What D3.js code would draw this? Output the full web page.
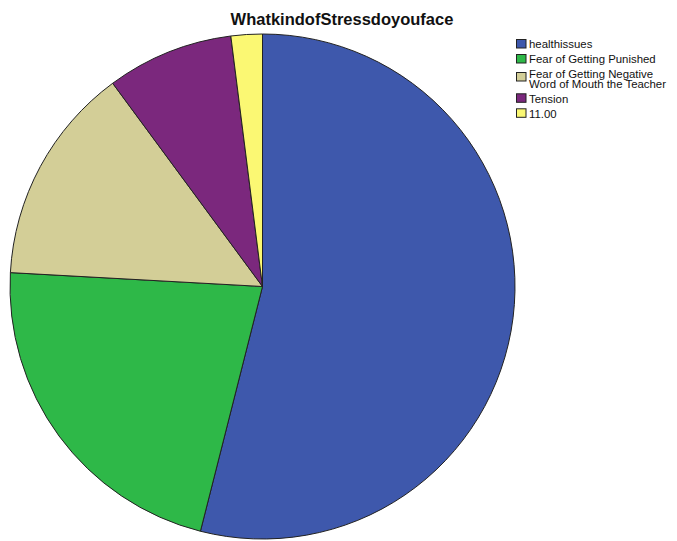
<!DOCTYPE html>
<html>
<head>
<meta charset="utf-8">
<script src="https://cdn.jsdelivr.net/npm/d3@7"></script>
<style>
  body { margin: 0; background: #fff; }
  svg { display: block; font-family: "Liberation Sans", Arial, sans-serif; }
</style>
</head>
<body>
<svg id="chart" width="677" height="541"></svg>
<script>
// Stress categories and their shares (percent)
const categories = ["healthissues", "Fear of Getting Punished", "Fear of Getting Negative\nWord of Mouth the Teacher", "Tension", "11.00"];
const values = [53.9, 21.9, 14.0, 8.1, 2.0];
const colors = ["#3E58AC", "#2EB848", "#D3CE97", "#7B287D", "#FBF873"];
const title = "WhatkindofStressdoyouface";

const svg = d3.select("#chart");
const cx = 262.5, cy = 286.5, r = 252.5;

svg.append("text")
  .attr("x", 342).attr("y", 25)
  .attr("text-anchor", "middle")
  .attr("font-weight", "bold")
  .attr("font-size", 16.5)
  .attr("fill", "#111")
  .text(title);

const data = categories.map((c, i) => ({ label: c, value: values[i], color: colors[i] }));

const pie = d3.pie().sort(null).value(d => d.value);
const arc = d3.arc().innerRadius(0).outerRadius(r);

const g = svg.append("g").attr("transform", `translate(${cx},${cy})`);
g.selectAll("path")
  .data(pie(data))
  .join("path")
  .attr("d", arc)
  .attr("fill", d => d.data.color)
  .attr("stroke", "#222")
  .attr("stroke-width", 1);

// Legend: swatch + label, two-line labels get a taller row
const legend = svg.append("g").attr("transform", "translate(516.5,39.5)");
let y = 0;
data.forEach(d => {
  const lines = d.label.split("\n");
  const multi = lines.length > 1;
  const item = legend.append("g").attr("transform", `translate(0,${y})`);
  item.append("rect")
    .attr("x", 0).attr("y", multi ? 3 : 0)
    .attr("width", 9.5).attr("height", 8.5)
    .attr("fill", d.color)
    .attr("stroke", "#222").attr("stroke-width", 1);
  lines.forEach((ln, k) => {
    item.append("text")
      .attr("font-size", 11.4)
      .attr("fill", "#111")
      .attr("x", 12.5)
      .attr("y", (multi ? 8.3 : 8.8) + k * 10.6)
      .text(ln);
  });
  y += multi ? 24.3 : 15;
});
</script>
</body>
</html>
